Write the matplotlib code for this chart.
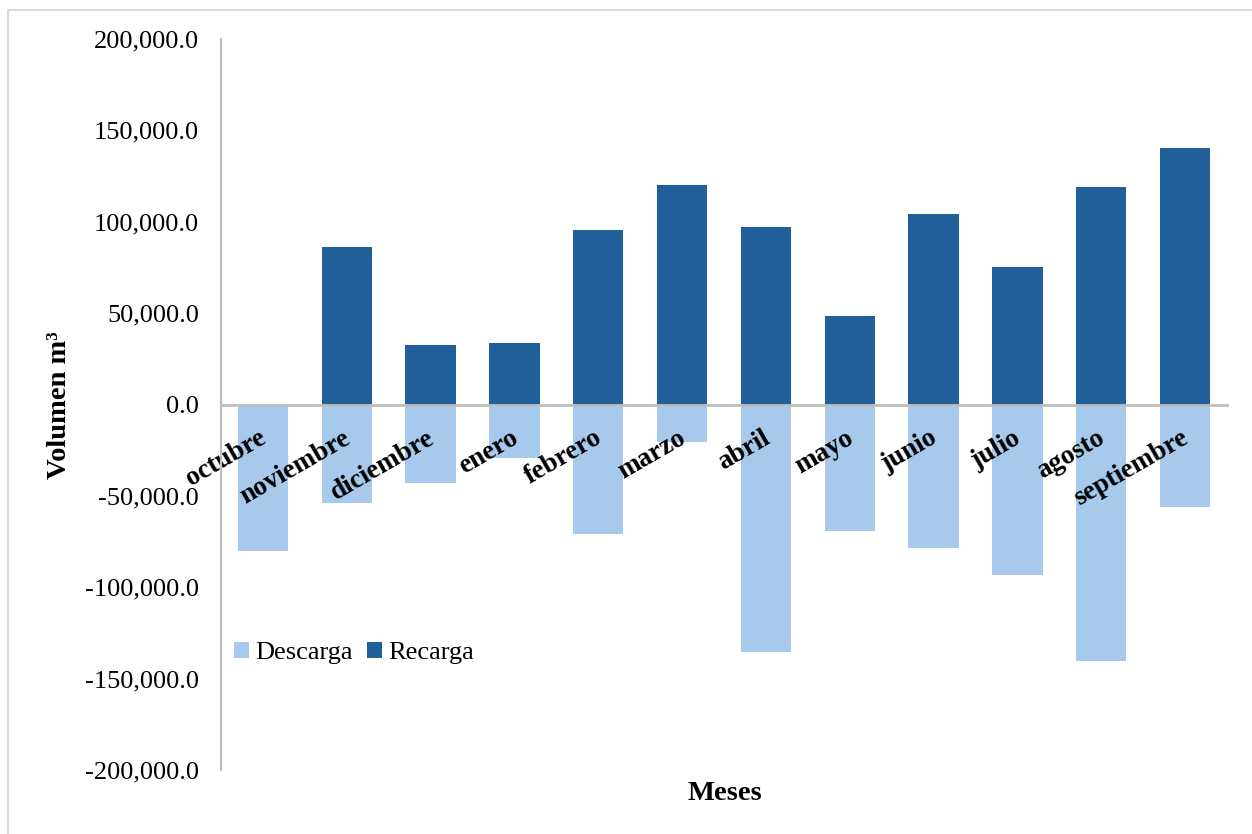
import matplotlib
matplotlib.use("Agg")
import matplotlib.pyplot as plt
from matplotlib.ticker import FuncFormatter, FixedLocator
from matplotlib.transforms import ScaledTranslation
from matplotlib.patches import Rectangle
import numpy as np

# Monthly water balance (m³)
meses = ["octubre", "noviembre", "diciembre", "enero", "febrero", "marzo",
         "abril", "mayo", "junio", "julio", "agosto", "septiembre"]
recarga = [0, 86100, 32300, 33400, 95600, 120200,
           97400, 48200, 104100, 75000, 119100, 140500]
descarga = [-80300, -53800, -42800, -29200, -71100, -20600,
            -135500, -69100, -78400, -93400, -140600, -56000]

y_ticks = [-200000, -150000, -100000, -50000, 0, 50000, 100000, 150000, 200000]

COLOR_RECARGA = "#215F9A"
COLOR_DESCARGA = "#A6C9EC"
GRID_GRAY = "#BFBFBF"
SERIF = ["Liberation Serif", "DejaVu Serif"]

plt.rcParams["font.family"] = SERIF

W, H, DPI = 1252, 834, 100
fig = plt.figure(figsize=(W / DPI, H / DPI), dpi=DPI)
ax = fig.add_axes([221 / W, 1 - 770 / H, (1227 - 221) / W, (770 - 39) / H])

x = np.arange(len(meses))
ax.bar(x, descarga, width=0.6, color=COLOR_DESCARGA, label="Descarga", zorder=1)
ax.bar(x, recarga, width=0.6, color=COLOR_RECARGA, label="Recarga", zorder=1)

ax.set_xlim(-0.5, len(meses) - 0.5)
ax.set_ylim(y_ticks[0], y_ticks[-1])

# spines: left axis line and the zero line carrying the month labels
for side in ("top", "right"):
    ax.spines[side].set_visible(False)
ax.spines["left"].set_color(GRID_GRAY)
ax.spines["left"].set_linewidth(1.6)
ax.spines["bottom"].set_position(("data", 0))
ax.spines["bottom"].set_color(GRID_GRAY)
ax.spines["bottom"].set_linewidth(2.0)

ax.yaxis.set_major_locator(FixedLocator(y_ticks))
ax.yaxis.set_major_formatter(FuncFormatter(lambda v, p: f"{v:,.1f}".replace("\u2212", "-")))
ax.tick_params(axis="y", length=0, pad=16, labelsize=19)

ax.set_xticks(x)
ax.set_xticklabels(meses, fontsize=19.5, fontweight="bold", rotation=30,
                   ha="right", va="baseline", rotation_mode="anchor")
ax.tick_params(axis="x", length=0, pad=27)
shift = ScaledTranslation(5 / DPI, 0, fig.dpi_scale_trans)
for lbl in ax.get_xticklabels():
    lbl.set_transform(lbl.get_transform() + shift)

# axis titles
fig.text(60 / W, 1 - 405 / H, "Volumen m³", rotation=90, ha="center", va="center",
         fontsize=20.5, fontweight="bold")
fig.text(725 / W, 1 - 793 / H, "Meses", ha="center", va="center",
         fontsize=20.5, fontweight="bold")

leg = fig.legend(loc="center left", bbox_to_anchor=(234 / W, 1 - 653 / H), ncol=2,
                 frameon=False, fontsize=19, handlelength=0.55, handleheight=0.55,
                 handletextpad=0.25, columnspacing=0.55, borderpad=0, borderaxespad=0)

# outer chart-area border
fig.patches.append(Rectangle((8 / W, -0.05), 1.1, 1 - 10 / H + 0.05,
                             transform=fig.transFigure, fill=False,
                             edgecolor="#D9D9D9", linewidth=1.5))

fig.savefig("out.png", dpi=DPI)
